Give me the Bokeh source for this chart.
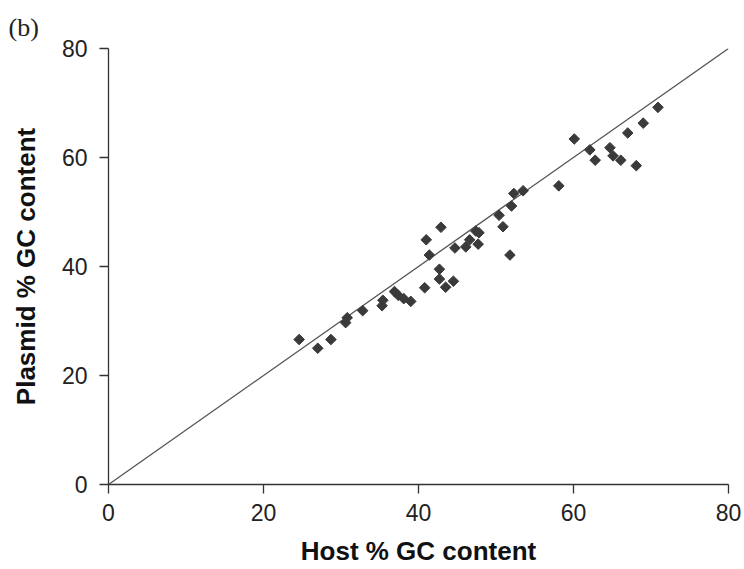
import math
from bokeh.plotting import figure
from bokeh.models import Range1d, FixedTicker, Title
from bokeh.embed import file_html
from bokeh.resources import INLINE

host_gc = [24.6, 27.0, 28.7, 30.6, 30.8, 32.8, 35.3, 35.4, 36.9, 37.4, 38.1, 39.0,
           40.8, 41.0, 41.4, 42.7, 42.9, 42.7, 43.5, 44.5, 44.7, 46.1, 46.6, 47.4,
           47.8, 47.7, 50.4, 50.9, 52.0, 51.8, 52.3, 53.5, 58.1, 60.1, 62.1, 62.8,
           64.7, 65.1, 66.1, 67.0, 68.1, 69.0, 70.9]
plasmid_gc = [26.6, 25.0, 26.6, 29.7, 30.6, 31.9, 32.8, 33.8, 35.4, 34.7, 34.1, 33.6,
              36.1, 44.9, 42.1, 39.5, 47.2, 37.7, 36.2, 37.3, 43.4, 43.6, 44.9, 46.5,
              46.2, 44.1, 49.4, 47.3, 51.1, 42.1, 53.4, 53.9, 54.8, 63.4, 61.4, 59.5,
              61.8, 60.3, 59.5, 64.5, 58.5, 66.3, 69.2]
diag_x = [0, 80]
diag_y = [0, 80]
ticks = [0, 20, 40, 60, 80]

p = figure(width=742, height=568, output_backend="svg", toolbar_location=None,
           x_range=Range1d(0, 80), y_range=Range1d(0, 80),
           min_border_left=108, min_border_top=48, min_border_right=14, min_border_bottom=81)
p.outline_line_color = None
p.xgrid.visible = False
p.ygrid.visible = False
p.background_fill_color = "white"

p.line(diag_x, diag_y, line_color="#555555", line_width=1.3)
p.scatter(host_gc, plasmid_gc, marker="square", size=7.5, angle=math.pi / 4,
          fill_color="#3a3a3a", line_color="#3a3a3a", line_width=1)

for ax in (p.xaxis[0], p.yaxis[0]):
    ax.ticker = FixedTicker(ticks=ticks)
    ax.minor_tick_line_color = None
    ax.major_tick_in = 0
    ax.major_tick_out = 9
    ax.axis_line_color = "#333333"
    ax.major_tick_line_color = "#333333"
    ax.axis_line_width = 1.3
    ax.major_tick_line_width = 1.3
    ax.major_label_text_font = "Liberation Sans"
    ax.major_label_text_font_size = "23px"
    ax.major_label_text_color = "#222222"
    ax.axis_label_text_font = "Liberation Sans"
    ax.axis_label_text_font_size = "26px"
    ax.axis_label_text_font_style = "bold"
    ax.axis_label_text_color = "#111111"

p.xaxis.axis_label = "Host % GC content"
p.yaxis.axis_label = "Plasmid % GC content"
p.xaxis.major_label_standoff = 10
p.yaxis.major_label_standoff = 12
p.xaxis.axis_label_standoff = 12
p.yaxis.axis_label_standoff = 18

p.add_layout(Title(text="(b)", align="left", vertical_align="top", offset=-100,
                   text_font="Liberation Serif", text_font_size="26px",
                   text_font_style="normal", text_color="#222222", standoff=10), "above")

open("out.html", "w").write(file_html(p, INLINE))
